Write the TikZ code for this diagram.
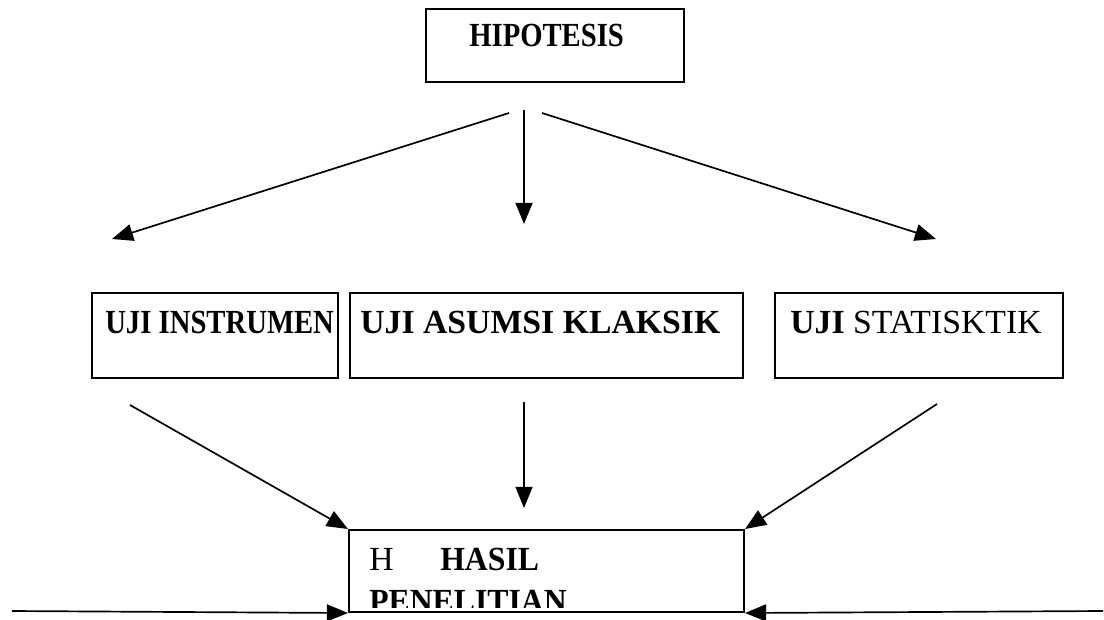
\documentclass[tikz,border=0pt]{standalone}
\usepackage{fontspec}
\setmainfont{Liberation Serif}
\newfontfamily\narrowfont[FakeStretch=0.85]{Liberation Serif}
\newfontfamily\semifont[FakeStretch=0.94]{Liberation Serif}
\usetikzlibrary{arrows.meta}
\tikzstyle{arrow} = [line width=1.2pt,-{Triangle[length=15pt,width=12pt]}]

\begin{document}
\begin{tikzpicture}[x=0.025cm, y=-0.025cm,
        % Define a style for the boxes and the texts in them
        stepbox/.style={draw, line width=1.4pt, inner sep=0pt},
        lbl/.style={anchor=base west, inner sep=0pt, font=\fontsize{24}{28}\selectfont}
    ]
        \useasboundingbox (0,0) rectangle (1104,619);

        % --- Draw the boxes at fixed positions ---
        \node (hipo)  [stepbox, minimum width=6.45cm, minimum height=1.825cm] at (555, 45.5) {};
        \node (uji1)  [stepbox, minimum width=6.15cm, minimum height=2.125cm] at (215, 335.5) {};
        \node (uji2)  [stepbox, minimum width=9.825cm, minimum height=2.125cm] at (546.5, 335.5) {};
        \node (uji3)  [stepbox, minimum width=7.2cm, minimum height=2.125cm] at (919, 335.5) {};
        \node (hasil) [stepbox, minimum width=9.875cm, minimum height=2.05cm] at (546.5, 571) {};

        % --- Texts in the boxes ---
        \node (t_hipo) [lbl] at (469, 46) {\narrowfont\bfseries HIPOTESIS};
        \node (t_uji1) [lbl] at (105, 333) {\narrowfont\bfseries UJI INSTRUMEN};
        \node (t_uji2) [lbl] at (360, 333) {\bfseries UJI ASUMSI KLAKSIK};
        \node (t_uji3) [lbl] at (790, 333) {\textbf{UJI} STATISKTIK};
        \node (t_h)    [lbl] at (369, 570) {H};
        \node (t_hasil)[lbl] at (440, 570) {\semifont\bfseries HASIL};
        \begin{scope}
            \clip (351, 532) rectangle (742, 607);
            \node (t_pen) [lbl] at (369, 612) {\semifont\bfseries PENELITIAN};
        \end{scope}

        % --- Free ends of the arrows ---
        \coordinate (h_l) at (509, 113);
        \coordinate (h_m) at (524, 110);
        \coordinate (h_r) at (542, 113);
        \coordinate (u_l) at (112, 239);
        \coordinate (u_m) at (524, 224);
        \coordinate (u_r) at (936, 239);
        \coordinate (d_l) at (130, 405);
        \coordinate (d_m) at (524, 402);
        \coordinate (d_r) at (937, 404);
        \coordinate (e_m) at (524, 508);
        \coordinate (s_l) at (12, 611);
        \coordinate (s_r) at (1103, 611);

        % --- Arrows ---
        \draw[arrow] (h_l) -- (u_l);
        \draw[arrow] (h_m) -- (u_m);
        \draw[arrow] (h_r) -- (u_r);
        \draw[arrow] (d_l) -- (hasil.north west);
        \draw[arrow] (d_m) -- (e_m);
        \draw[arrow] (d_r) -- (hasil.north east);
        \draw[arrow] (s_l) -- (hasil.south west);
        \draw[arrow] (s_r) -- (hasil.south east);

    \end{tikzpicture}
\end{document}
